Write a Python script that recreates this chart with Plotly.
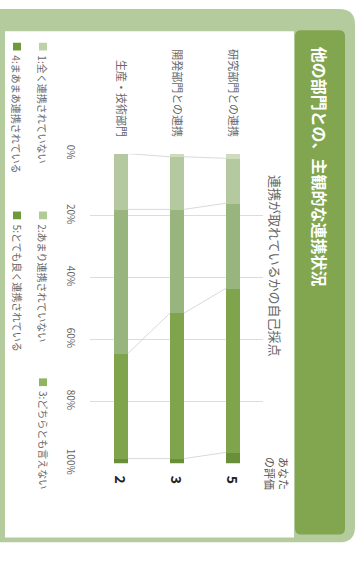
import plotly.graph_objects as go

# ---- data -------------------------------------------------------------
departments = ["生産・技術部門", "開発部門との連携", "研究部門との連携"]
ratings = ["2", "3", "5"]
level_names = [
    "1:全く連携されていない",
    "2:あまり連携されていない",
    "3:どちらとも言えない",
    "4:まあまあ連携されている",
    "5:とても良く連携されている",
]
# share (%) of each answer level, per department
lv1 = [0.0, 1.0, 1.5]
lv2 = [18.0, 17.0, 14.5]
lv3 = [46.5, 33.5, 27.5]
lv4 = [34.0, 47.0, 53.0]
lv5 = [1.5, 1.5, 3.5]
levels = [lv1, lv2, lv3, lv4, lv5]
pct_ticks = [0, 20, 40, 60, 80, 100]

title = "他の部門との、主観的な連携状況"
axis_note = "連携が取れているかの自己採点"
rating_head = "あなた<br>の評価"

# ---- style ------------------------------------------------------------
W, H = 359, 562
FONT = "Noto Sans CJK JP"
colors = ["#cddcbc", "#b4c9a0", "#98b57e", "#7fa44c", "#6a8f3a"]
legend_colors = ["#bcd2a6", "#b0cb96", "#8fb65e", "#6f9a3c", "#6f9a3c"]
frame_light = "#b4cb9d"
title_green = "#82a650"
text_gray = "#666666"
bar_w = 0.25
xpos = list(range(len(departments)))


def px(x):
    return x / W


def py(y):
    return 1 - y / H


fig = go.Figure()

# connector lines between matching segment boundaries of neighbouring bars
cum = []
run = [0.0] * len(departments)
for lv in levels[:-1]:
    run = [a + b for a, b in zip(run, lv)]
    cum.append(run)
cx, cy = [], []
for b in cum:
    for i in range(len(xpos) - 1):
        cx += [xpos[i] + bar_w / 2, xpos[i + 1] - bar_w / 2, None]
        cy += [b[i], b[i + 1], None]
fig.add_trace(go.Scatter(x=cx, y=cy, mode="lines",
                         line=dict(color="#dadada", width=1),
                         hoverinfo="skip", showlegend=False))

for name, vals, col in zip(level_names, levels, colors):
    fig.add_trace(go.Bar(x=xpos, y=vals, name=name, width=bar_w,
                         marker=dict(color=col, line=dict(width=0)),
                         showlegend=False))

shapes = []
# outer light-green frame with rounded right corners
r = 16
shapes.append(dict(
    type="path", xref="paper", yref="paper", layer="below",
    path=(f"M {px(-5)} {py(0)} L {px(355 - r)} {py(0)} "
          f"Q {px(355)} {py(0)} {px(355)} {py(r)} "
          f"L {px(355)} {py(553 - r)} "
          f"Q {px(355)} {py(553)} {px(355 - r)} {py(553)} "
          f"L {px(-5)} {py(553)} Z"),
    fillcolor=frame_light, line=dict(width=0)))
# white panel
shapes.append(dict(type="rect", xref="paper", yref="paper", layer="below",
                   x0=px(5), x1=px(294), y0=py(548), y1=py(23),
                   fillcolor="white", line=dict(width=0)))
# title band
r2 = 6
shapes.append(dict(
    type="path", xref="paper", yref="paper", layer="below",
    path=(f"M {px(295 + r2)} {py(22)} L {px(345 - r2)} {py(22)} "
          f"Q {px(345)} {py(22)} {px(345)} {py(22 + r2)} "
          f"L {px(345)} {py(545 - r2)} "
          f"Q {px(345)} {py(545)} {px(345 - r2)} {py(545)} "
          f"L {px(295 + r2)} {py(545)} "
          f"Q {px(295)} {py(545)} {px(295)} {py(545 - r2)} "
          f"L {px(295)} {py(22 + r2)} "
          f"Q {px(295)} {py(22)} {px(295 + r2)} {py(22)} Z"),
    fillcolor=title_green, line=dict(width=0)))

annotations = []
annotations.append(dict(text=f"<b>{title}</b>", xref="paper", yref="paper",
                        x=px(320), y=py(37), xanchor="center", yanchor="top",
                        textangle=90, showarrow=False,
                        font=dict(family=FONT, size=16, color="white")))
annotations.append(dict(text=axis_note, xref="paper", yref="paper",
                        x=px(275), y=py(170), xanchor="center", yanchor="top",
                        textangle=90, showarrow=False,
                        font=dict(family=FONT, size=13, color=text_gray)))
annotations.append(dict(text=rating_head, xref="paper", yref="paper",
                        x=px(277), y=py(462), xanchor="center", yanchor="top",
                        textangle=90, showarrow=False,
                        font=dict(family=FONT, size=11, color="#555555")))
for xv, rt in zip(xpos, ratings):
    annotations.append(dict(text=f"<b>{rt}</b>", xref="x", yref="paper",
                            x=xv, y=py(488), xanchor="center", yanchor="middle",
                            textangle=90, showarrow=False,
                            font=dict(family=FONT, size=14, color="#222222")))

# legend (two columns of rotated entries)
leg_pos = [(43, 35), (43, 210), (43, 383), (17, 35), (17, 210)]
for (lx, ly), name, col in zip(leg_pos, level_names, legend_colors):
    shapes.append(dict(type="rect", xref="paper", yref="paper",
                       x0=px(lx - 4), x1=px(lx + 4), y0=py(ly + 8), y1=py(ly),
                       fillcolor=col, line=dict(width=0)))
    annotations.append(dict(text=name, xref="paper", yref="paper",
                            x=px(lx), y=py(ly + 11), xanchor="center",
                            yanchor="top", textangle=90, showarrow=False,
                            font=dict(family=FONT, size=10, color=text_gray)))

fig.update_layout(
    width=W, height=H, margin=dict(l=0, r=0, t=0, b=0),
    paper_bgcolor="white", plot_bgcolor="rgba(0,0,0,0)",
    barmode="stack", bargap=0, showlegend=False,
    shapes=shapes, annotations=annotations,
    font=dict(family=FONT, color=text_gray),
    xaxis=dict(domain=[px(90), px(263)], range=[-0.554, 2.536],
               side="top", tickvals=xpos, ticktext=departments,
               tickangle=90, ticks="", showgrid=False, zeroline=False,
               showline=False, ticklabelstandoff=14,
               tickfont=dict(family=FONT, size=11, color=text_gray)),
    yaxis=dict(domain=[py(471), py(150)], range=[100, 0],
               tickvals=pct_ticks, ticktext=[f"{t}%" for t in pct_ticks],
               tickangle=90, ticks="", showgrid=True, gridcolor="#dcdcdc",
               gridwidth=1, zeroline=False, showline=False,
               ticklabelstandoff=12,
               tickfont=dict(family=FONT, size=10, color=text_gray)),
)

fig.write_html("out.html")
